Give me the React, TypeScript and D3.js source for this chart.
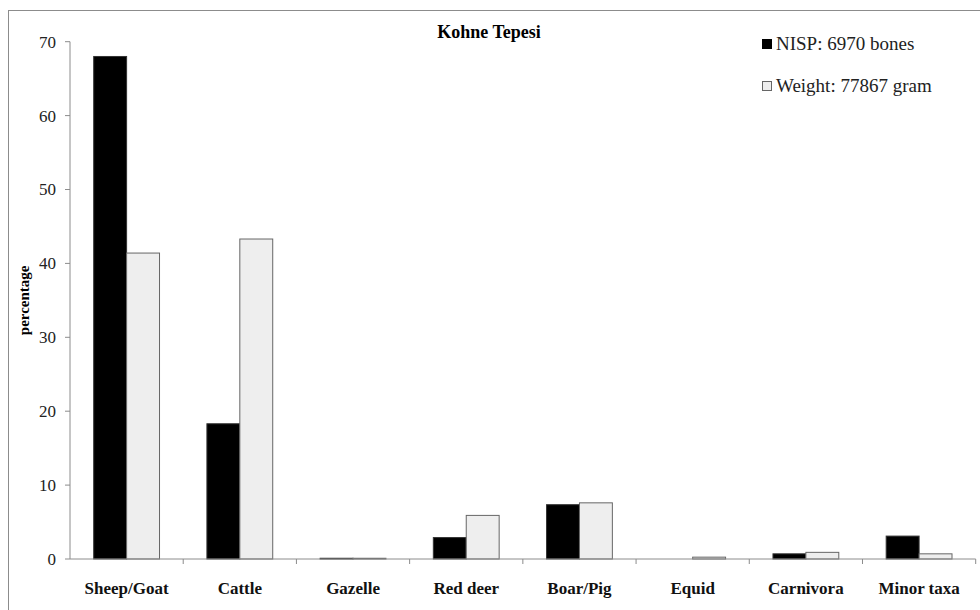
import React from "react";
import * as d3 from "d3";

const categories = ["Sheep/Goat", "Cattle", "Gazelle", "Red deer", "Boar/Pig", "Equid", "Carnivora", "Minor taxa"];
const nisp = [68.0, 18.3, 0.1, 2.9, 7.35, 0.0, 0.7, 3.1];
const weight = [41.4, 43.3, 0.1, 5.9, 7.6, 0.25, 0.9, 0.7];
const yTicks = [0, 10, 20, 30, 40, 50, 60, 70];
const seriesNames = ["NISP: 6970 bones", "Weight: 77867 gram"];

const W = 980, H = 610;
const left = 70, right = 975.7, top = 41.7, bottom = 559;
const font = "'Liberation Serif', 'Times New Roman', serif";

export default function App() {
  const x = d3.scaleBand<string>().domain(categories).range([left, right]).paddingInner(0).paddingOuter(0);
  const y = d3.scaleLinear().domain([0, 70]).range([bottom, top]);
  const inner = d3.scaleBand<string>().domain(["n", "w"]).range([0, x.bandwidth()]).paddingInner(0).paddingOuter(0.72);
  const bw = inner.bandwidth();
  const axisColor = "#8c8c8c";
  return (
    <svg width={W} height={H} style={{ position: "absolute", left: 0, top: 0, background: "#fff" }} fontFamily={font}>
      <rect x={8.5} y={10.5} width={W + 20} height={H + 20} fill="none" stroke="#8c8c8c" strokeWidth={1} />
      <text x={489} y={38} textAnchor="middle" fontSize={18} fontWeight="bold">Kohne Tepesi</text>
      {/* y axis */}
      <line x1={left} x2={left} y1={top} y2={bottom} stroke={axisColor} />
      {yTicks.map((t) => (
        <g key={t}>
          <line x1={left - 5} x2={left} y1={y(t)} y2={y(t)} stroke={axisColor} />
          <text x={left - 14} y={y(t)} dy="0.35em" textAnchor="end" fontSize={17} fill="#222">{t}</text>
        </g>
      ))}
      <text transform={`translate(29,${(top + bottom) / 2}) rotate(-90)`} textAnchor="middle" fontSize={15} fontWeight="bold">percentage</text>
      {/* bars */}
      {categories.map((c, i) => (
        <g key={c}>
          {nisp[i] > 0 && (
            <rect x={x(c)! + inner("n")!} y={y(nisp[i])} width={bw} height={bottom - y(nisp[i])} fill="#000" stroke="#333" strokeWidth={1} />
          )}
          {weight[i] > 0 && (
            <rect x={x(c)! + inner("w")!} y={y(weight[i])} width={bw} height={bottom - y(weight[i])} fill="#eeeeee" stroke="#666" strokeWidth={1} />
          )}
        </g>
      ))}
      {/* x axis */}
      <line x1={left} x2={right} y1={bottom} y2={bottom} stroke={axisColor} />
      {categories.map((c) => (
        <line key={"t" + c} x1={x(c)! + x.bandwidth()} x2={x(c)! + x.bandwidth()} y1={bottom} y2={bottom + 5} stroke={axisColor} />
      ))}
      {categories.map((c) => (
        <text key={"l" + c} x={x(c)! + x.bandwidth() / 2} y={594} textAnchor="middle" fontSize={17} fontWeight="bold" fill="#111">{c}</text>
      ))}
      {/* legend */}
      {seriesNames.map((s, i) => (
        <g key={s}>
          <rect x={762.5} y={39.5 + i * 42} width={9} height={9} fill={i === 0 ? "#000" : "#eeeeee"} stroke={i === 0 ? "#000" : "#666"} />
          <text x={776} y={50 + i * 42} fontSize={19} fill="#222">{s}</text>
        </g>
      ))}
    </svg>
  );
}
